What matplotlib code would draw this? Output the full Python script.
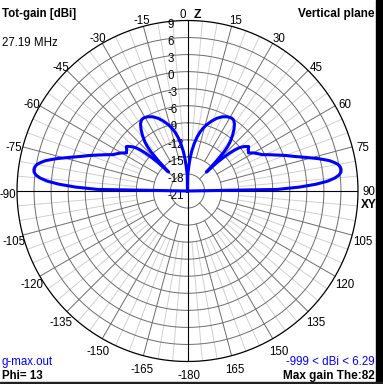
import matplotlib.pyplot as plt
import numpy as np

# vertical-plane pattern, theta from zenith (deg), right half (pattern is symmetric)
theta_half = [0, 1, 2, 3, 4, 5, 6, 8, 10, 12, 14, 16, 19, 22, 25, 28, 31, 33, 35, 37,
              39, 41, 42, 43, 44, 45, 46, 47, 48, 49, 50, 51, 52, 53, 54, 55, 56, 57,
              58, 59, 60, 62, 64, 66, 68, 70, 72, 74, 76, 77, 78, 79, 80, 81, 82, 83,
              84, 85, 86, 87, 88, 89, 90]
gain_half = [-999, -18.0, -17.5, -16.7, -15.8, -14.9, -14.0, -12.6, -11.4, -10.4, -9.6,
             -8.9, -8.0, -7.2, -6.6, -6.2, -6.0, -6.1, -6.6, -7.4, -8.4, -9.6, -10.4,
             -11.6, -13.8, -16.3, -13.8, -12.3, -11.0, -10.0, -9.2, -8.7, -8.3, -8.0,
             -7.7, -7.9, -8.1, -8.2, -8.35, -8.0, -7.6, -7.0, -6.4, -5.3, -4.1, -2.7,
             -1.3, 0.5, 2.6, 3.6, 4.6, 5.3, 5.9, 6.2, 6.29, 6.2, 5.8, 5.0, 3.7, 1.6,
             -1.3, -5.2, -999]

gain_ticks = [9, 6, 3, 0, -3, -6, -9, -12, -15, -18, -21]
angle_ticks = [15, 30, 45, 60, 75, 90, 105, 120, 135, 150, 165, 180,
               -165, -150, -135, -120, -105, -90, -75, -60, -45, -30, -15]
angle_labels = ['15', '30', '45', '60', '75', '90', '105', '120', '135', '150', '165', '-180',
                '-165', '-150', '-135', '-120', '-105', '-90', '-75', '-60', '-45', '-30', '-15']

G_MIN, G_MAX = -21, 9
RMAX = G_MAX - G_MIN

narrow = ['Liberation Sans Narrow', 'Liberation Sans', 'DejaVu Sans']
bold = ['Liberation Sans', 'DejaVu Sans']
DARK = '#6c6c6c'
LIGHT = '#d0d0d0'

fig = plt.figure(figsize=(3.83, 3.84), dpi=100)
W, H = 383, 384
ax = fig.add_axes([17 / W, (H - 361.5) / H, 341 / W, 341 / H], projection='polar')
ax.set_theta_zero_location('N')
ax.set_theta_direction(-1)
ax.set_ylim(0, RMAX)
ax.set_xticks([])
ax.set_yticks([])
ax.grid(False)
ax.spines['polar'].set_visible(False)

# grid circles
circ = np.linspace(0, 2 * np.pi, 721)
for g in range(-18, 9, 3):
    ax.plot(circ, np.full_like(circ, g - G_MIN), color=DARK, lw=0.7, zorder=1)
ax.plot(circ, np.full_like(circ, RMAX), color='black', lw=0.9, zorder=2, clip_on=False)

# radial lines
for a in range(0, 360, 5):
    if a % 90 == 0:
        continue
    if a % 45 == 0:
        r0, c = 3, DARK
    elif a % 15 == 0:
        r0, c = 6, DARK
    else:
        r0, c = 9, LIGHT
    ax.plot([np.radians(a)] * 2, [r0, RMAX], color=c, lw=0.7, zorder=1 if c == DARK else 0.5)
for a in (0, 90):
    ax.plot([np.radians(a), np.radians(a + 180)], [RMAX, RMAX], color='black', lw=0.8, zorder=2)

# gain labels along the zenith axis
for g in gain_ticks:
    ax.annotate(str(g), xy=(0, g - G_MIN), xytext=(-20, -7.7), textcoords='offset pixels',
                ha='left', va='baseline', fontsize=8.3, family=narrow, zorder=3,
                annotation_clip=False)

# angle labels
for a, lab in zip(angle_ticks, angle_labels):
    t = np.radians(a)
    dy = 10 * np.cos(t) - 3 - 4.2
    if a == 90:
        dy += 3
    ax.annotate(lab, xy=(t, RMAX), xytext=(10 * np.sin(t) + 1, dy),
                textcoords='offset pixels', ha='center', va='baseline', fontsize=8.3,
                family=narrow, annotation_clip=False)
ax.annotate('0', xy=(0, RMAX), xytext=(-5, 7 - 4.2), textcoords='offset pixels',
            ha='center', va='baseline', fontsize=8.3, family=narrow, annotation_clip=False)
ax.annotate('Z', xy=(0, RMAX), xytext=(10, 7 - 4.2), textcoords='offset pixels',
            ha='center', va='baseline', fontsize=8.8, family=bold, fontweight='bold',
            annotation_clip=False)
ax.annotate('XY', xy=(np.pi / 2, RMAX), xytext=(10.5, -13 - 4.4), textcoords='offset pixels',
            ha='center', va='baseline', fontsize=8.5, family=bold, fontweight='bold',
            annotation_clip=False)

# pattern
theta_r = np.array(theta_half, dtype=float)
gain_r = np.array(gain_half, dtype=float)
theta_all = np.concatenate([[-180], -theta_r[::-1], theta_r[1:], [180]])
gain_all = np.concatenate([[-999], gain_r[::-1], gain_r[1:], [-999]])
radius = np.clip(gain_all - G_MIN, 0, None)
ax.plot(np.radians(theta_all), radius, color='#0000ff', lw=2.2, zorder=6,
        solid_joinstyle='round', clip_on=False)


def ftext(x, y, s, **kw):
    fig.text(x / W, (H - y) / H, s, va='baseline', **kw)


ftext(2, 17, 'Tot-gain [dBi]', fontsize=8.3, family=bold, fontweight='bold')
ftext(2, 46.5, '27.19 MHz', fontsize=8.3, family=narrow)
ftext(375, 17, 'Vertical plane', ha='right', fontsize=8.5, family=bold, fontweight='bold')
ftext(2, 365, 'g-max.out', fontsize=8.3, family=narrow, color='#0000ff')
ftext(2, 379, 'Phi= 13', fontsize=8.3, family=bold, fontweight='bold')
ftext(375, 365, '-999 < dBi < 6.29', ha='right', fontsize=8.3, family=narrow, color='#0000ff')
ftext(375, 379, 'Max gain The:82', ha='right', fontsize=8.5, family=bold, fontweight='bold')

# window border strips
fig.patches.append(plt.Rectangle((376 / W, 0), 7 / W, 1, transform=fig.transFigure,
                                 color='black', zorder=10))
fig.patches.append(plt.Rectangle((0, 0), 1, 2 / H, transform=fig.transFigure,
                                 color='#202020', zorder=10))

fig.savefig('out.png', dpi=100)
